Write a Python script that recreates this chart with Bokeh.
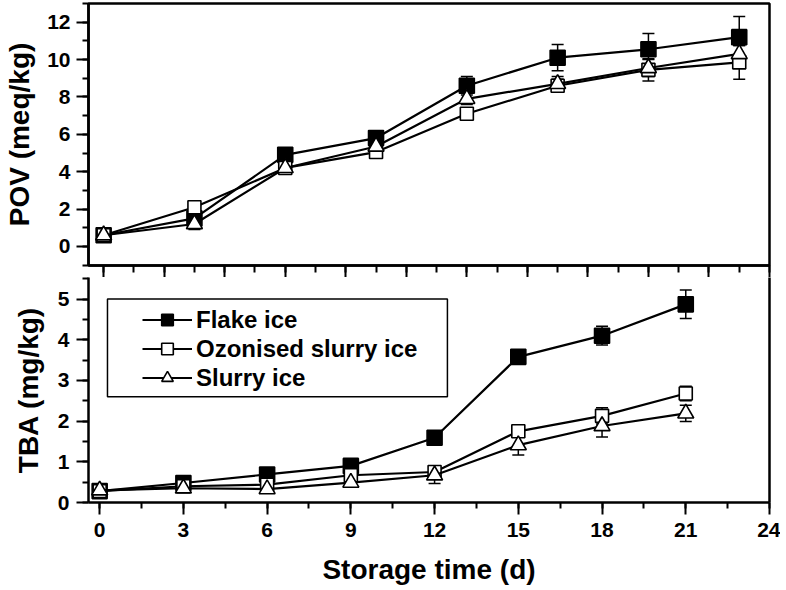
from bokeh.plotting import figure
from bokeh.layouts import column
from bokeh.models import (Range1d, LinearAxis, SingleIntervalTicker, FixedTicker, Whisker, TeeHead,
                          ColumnDataSource, Legend, LegendItem, BoxAnnotation, CustomJSTickFormatter)
from bokeh.embed import file_html
from bokeh.resources import INLINE

# ---------------- data ----------------
days = [0, 3, 6, 9, 12, 15, 18, 21]
series_names = ["Flake ice", "Ozonised slurry ice", "Slurry ice"]

pov_flake = [0.6, 1.5, 4.9, 5.8, 8.6, 10.1, 10.55, 11.2]
pov_ozon = [0.6, 2.1, 4.2, 5.05, 7.1, 8.6, 9.45, 9.85]
pov_slurry = [0.6, 1.2, 4.2, 5.35, 7.9, 8.7, 9.55, 10.3]
pov_flake_err = [0.15, 0.2, 0.2, 0.3, 0.5, 0.7, 0.85, 1.1]
pov_ozon_err = [0.15, 0.25, 0.2, 0.2, 0.3, 0.35, 0.6, 0.9]
pov_slurry_err = [0.15, 0.3, 0.2, 0.25, 0.3, 0.4, 0.45, 0.45]

tba_flake = [0.28, 0.48, 0.69, 0.9, 1.59, 3.58, 4.1, 4.87]
tba_ozon = [0.28, 0.4, 0.44, 0.67, 0.75, 1.75, 2.13, 2.68]
tba_slurry = [0.3, 0.35, 0.33, 0.49, 0.67, 1.41, 1.88, 2.19]
tba_flake_err = [0.03, 0.05, 0.05, 0.08, 0.06, 0.07, 0.23, 0.35]
tba_ozon_err = [0.03, 0.05, 0.05, 0.05, 0.1, 0.08, 0.2, 0.18]
tba_slurry_err = [0.05, 0.08, 0.1, 0.1, 0.2, 0.24, 0.27, 0.2]

FONT = "Liberation Sans"


def style_axis(ax, label_size="21px"):
    ax.axis_line_width = 2.5
    ax.axis_line_color = "black"
    ax.major_tick_line_width = 2
    ax.minor_tick_line_width = 2
    ax.major_tick_line_color = "black"
    ax.minor_tick_line_color = "black"
    ax.major_tick_in = 0
    ax.minor_tick_in = 0
    ax.major_tick_out = 12
    ax.minor_tick_out = 6
    ax.major_label_text_font = FONT
    ax.major_label_text_font_style = "bold"
    ax.major_label_text_font_size = label_size
    ax.major_label_text_color = "black"
    ax.axis_label_text_font = FONT
    ax.axis_label_text_font_style = "bold"
    ax.axis_label_text_font_size = "28px"
    ax.axis_label_text_color = "black"


def add_series(p, x, y, err, marker, size, fill):
    src = ColumnDataSource(dict(x=x, y=y,
                                upper=[a + b for a, b in zip(y, err)],
                                lower=[a - b for a, b in zip(y, err)]))
    w = Whisker(source=src, base="x", upper="upper", lower="lower",
                line_width=1.5, line_color="black", level="underlay",
                upper_head=TeeHead(size=12, line_width=1.5, line_color="black"),
                lower_head=TeeHead(size=12, line_width=1.5, line_color="black"))
    p.add_layout(w)
    ln = p.line("x", "y", source=src, line_width=2.2, line_color="black")
    mk = p.scatter("x", "y", source=src, marker=marker, size=size,
                   fill_color=fill, line_color="black", line_width=1.6)
    return ln, mk


# ---------------- top panel (POV) ----------------
top = figure(width=780, height=277, output_backend="svg", toolbar_location=None,
             x_range=Range1d(-0.5, 22), y_range=Range1d(-1.02, 13.0),
             min_border_left=88, min_border_right=7, min_border_top=3, min_border_bottom=12,
             x_axis_type=None, y_axis_type=None)
top.grid.visible = False
top.outline_line_color = "black"
top.outline_line_width = 2.5
top.background_fill_color = "white"
top.border_fill_color = "white"

tx = LinearAxis(ticker=SingleIntervalTicker(interval=2, num_minor_ticks=2),
                formatter=CustomJSTickFormatter(code="return ''"))
style_axis(tx)
tx.major_label_standoff = 0
tx.minor_tick_out = 7
top.add_layout(tx, "below")

ty = LinearAxis(ticker=SingleIntervalTicker(interval=2, num_minor_ticks=2), axis_label="POV (meq/kg)")
style_axis(ty)
ty.major_label_standoff = 6
ty.axis_label_standoff = 9
top.add_layout(ty, "left")

add_series(top, days, pov_flake, pov_flake_err, "square", 15, "black")
add_series(top, days, pov_ozon, pov_ozon_err, "square", 13, "white")
add_series(top, days, pov_slurry, pov_slurry_err, "triangle", 16, "white")

# ---------------- bottom panel (TBA) ----------------
bot = figure(width=780, height=311, output_backend="svg", toolbar_location=None,
             x_range=Range1d(-0.4, 24), y_range=Range1d(0, 5.53),
             min_border_left=88, min_border_right=11, min_border_top=0, min_border_bottom=86,
             x_axis_type=None, y_axis_type=None)
bot.grid.visible = False
bot.outline_line_color = None
bot.background_fill_color = "white"
bot.border_fill_color = "white"

bx = LinearAxis(ticker=SingleIntervalTicker(interval=3, num_minor_ticks=2), axis_label="Storage time (d)")
style_axis(bx)
bx.major_label_standoff = 8
bx.axis_label_standoff = 14
bot.add_layout(bx, "below")

by = LinearAxis(ticker=SingleIntervalTicker(interval=1, num_minor_ticks=2), axis_label="TBA (mg/kg)")
style_axis(by)
by.major_label_standoff = 7
by.axis_label_standoff = 11
bot.add_layout(by, "left")

br = LinearAxis(ticker=FixedTicker(ticks=[]))
style_axis(br)
br.major_tick_out = 0
br.minor_tick_out = 0
br.major_label_standoff = 0
bot.add_layout(br, "right")

box = BoxAnnotation(left=0.28, right=12.46, top=5.0, bottom=2.6,
                    fill_color="white", fill_alpha=1.0,
                    line_color="black", line_alpha=1.0, line_width=1.5)
bot.add_layout(box)

r1 = add_series(bot, days, tba_flake, tba_flake_err, "square", 15, "black")
r2 = add_series(bot, days, tba_ozon, tba_ozon_err, "square", 13, "white")
r3 = add_series(bot, days, tba_slurry, tba_slurry_err, "triangle", 16, "white")

legend = Legend(items=[LegendItem(label=series_names[0], renderers=list(r1)),
                       LegendItem(label=series_names[1], renderers=list(r2)),
                       LegendItem(label=series_names[2], renderers=list(r3))],
                location=(54, 110), padding=0, margin=0, spacing=0,
                glyph_width=50, glyph_height=29, label_height=29, label_standoff=4,
                label_text_font=FONT, label_text_font_style="bold", label_text_font_size="24px",
                label_text_color="black",
                border_line_color=None, background_fill_alpha=0)
bot.add_layout(legend)

layout = column(top, bot, spacing=0)
open("out.html", "w").write(file_html(layout, INLINE))
